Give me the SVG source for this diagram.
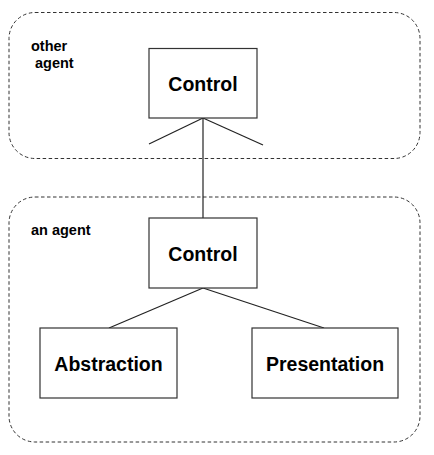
<svg xmlns="http://www.w3.org/2000/svg" width="434" height="455" viewBox="0 0 434 455">
<style>
.agent{fill:none;stroke:#333;stroke-width:1;stroke-dasharray:3.5,2.5}
.box{fill:#fff;stroke:#333;stroke-width:1.2}
.ln{fill:none;stroke:#222;stroke-width:1.2}
.nt{font-family:"Liberation Sans",Arial,sans-serif;font-weight:bold;font-size:19.5px;fill:#000;text-anchor:middle}
.lt{font-family:"Liberation Sans",Arial,sans-serif;font-weight:bold;font-size:14.5px;fill:#000}
</style>
<rect width="434" height="455" fill="#fff"/>
<g id="other-agent">
<rect class="agent" x="9" y="12.5" width="411" height="146" rx="26" ry="26"/>
<text class="lt" x="31" y="51">other</text>
<text class="lt" x="35" y="68">agent</text>
</g>
<g id="an-agent">
<rect class="agent" x="9" y="197" width="411" height="245" rx="26" ry="26"/>
<text class="lt" x="31" y="235">an agent</text>
</g>
<g id="connectors">
<line class="ln" x1="203" y1="118" x2="149" y2="144"/>
<line class="ln" x1="203" y1="118" x2="263" y2="145"/>
<line class="ln" x1="203" y1="118" x2="203" y2="218"/>
<line class="ln" x1="203" y1="288" x2="109" y2="328"/>
<line class="ln" x1="203" y1="288" x2="324" y2="328"/>
</g>
<g id="control-top">
<rect class="box" x="149" y="48.5" width="108" height="69.5"/>
<text class="nt" x="203" y="91">Control</text>
</g>
<g id="control">
<rect class="box" x="149" y="218" width="108" height="70"/>
<text class="nt" x="203" y="261">Control</text>
</g>
<g id="abstraction">
<rect class="box" x="40" y="328" width="137" height="70"/>
<text class="nt" x="108.5" y="371">Abstraction</text>
</g>
<g id="presentation">
<rect class="box" x="252" y="328" width="146" height="70"/>
<text class="nt" x="325" y="371">Presentation</text>
</g>
</svg>
